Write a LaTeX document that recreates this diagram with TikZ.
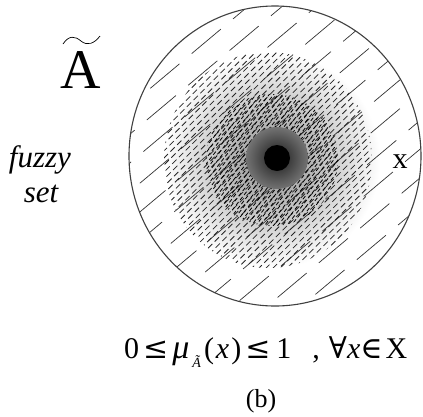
\documentclass[tikz,border=0pt]{standalone}
\usepackage{fontspec}
\setmainfont{Liberation Serif}
\newfontfamily\symf{DejaVu Serif}
\tikzset{
  rim/.style={draw=black!75, line width=1.1pt},
  hatchlong/.style={draw=black!80, line width=0.7pt, dash pattern=on 38pt off 16pt},
  hatchmid/.style={draw=black!85, line width=0.8pt, dash pattern=on 6pt off 3.5pt},
  hatchin/.style={draw=black, line width=0.8pt, dash pattern=on 4pt off 2.5pt},
  lbl/.style={inner sep=0pt, anchor=base}
}
\begin{document}
\begin{tikzpicture}[x=1pt,y=-1pt]
\useasboundingbox (0,0) rectangle (423,416);
\coordinate (c) at (275,156);
\fill[white] (0,0) rectangle (423,416);
\begin{scope}
  \clip (c) ellipse [x radius=146, y radius=150];
  % soft grey tone of the middle
  \shade[inner color=black!45, outer color=white] (272,160) circle (108);
  % long outer hatching
  \foreach \d [count=\k] in {-198,-176,...,198} {
    \pgfmathsetmacro\ph{mod(\k*23,54)}
    \draw[hatchlong, dash phase=\ph pt]
      ({275+\d*sin(40)-230*cos(40)},{156+\d*cos(40)+230*sin(40)}) --
      ({275+\d*sin(40)+230*cos(40)},{156+\d*cos(40)-230*sin(40)});
  }
  % middle short dashes
  \begin{scope}
    \clip (268,160) ellipse [x radius=104, y radius=108];
    \foreach \d [count=\k] in {-120,-115,...,120} {
      \pgfmathsetmacro\ph{mod(\k*3.7,9.5)}
      \draw[hatchmid, dash phase=\ph pt]
        ({268+\d*sin(45)-140*cos(45)},{160+\d*cos(45)+140*sin(45)}) --
        ({268+\d*sin(45)+140*cos(45)},{160+\d*cos(45)-140*sin(45)});
    }
  \end{scope}
  % inner denser dashes
  \begin{scope}
    \clip (272,160) circle (66);
    \foreach \d [count=\k] in {-81,-77.5,...,81} {
      \pgfmathsetmacro\ph{mod(\k*2.3,6.5)}
      \draw[hatchin, dash phase=\ph pt]
        ({272+\d*sin(52)-100*cos(52)},{160+\d*cos(52)+100*sin(52)}) --
        ({272+\d*sin(52)+100*cos(52)},{160+\d*cos(52)-100*sin(52)});
    }
  \end{scope}
  % dark core
  \shade[inner color=black!90, outer color=black!55] (277,158) circle (31);
\end{scope}
\fill[black] (277,158) circle (13);
\draw[rim] (c) ellipse [x radius=146, y radius=150];

% labels
\node[lbl, font=\fontsize{56}{56}\selectfont] (A) at (81,88) {A};
\draw[line width=0.7pt] (63,44) .. controls (69,35) and (75,36) .. (81,41)
  .. controls (87,46) and (94,44) .. (100,36);
\node[lbl, font=\fontsize{31}{31}\selectfont\itshape] (fz) at (40,167) {fuzzy};
\node[lbl, font=\fontsize{31}{31}\selectfont\itshape] (st) at (41,202) {set};
\node[lbl, font=\fontsize{30}{30}\selectfont] (xl) at (400,168) {x};
\node[inner sep=0pt, anchor=base west, font=\fontsize{30}{30}\selectfont] (f) at (124,358)
  {0\hspace{4pt}{\symf ≤}\hspace{4pt}{\fontsize{34}{34}\selectfont\textit{μ}}\hspace{3pt}\raisebox{-9pt}{\fontsize{14}{14}\selectfont\textit{Ã}}\hspace{3pt}(\hspace{2pt}\textit{x}\hspace{2pt})\hspace{4pt}{\symf ≤}\hspace{6pt}1\hspace{21pt},\hspace{9pt}{\symf ∀}\textit{x}{\symf ∈}\hspace{3pt}X};
\node[lbl, font=\fontsize{26}{26}\selectfont] (b) at (261,407) {(b)};
\end{tikzpicture}
\end{document}
